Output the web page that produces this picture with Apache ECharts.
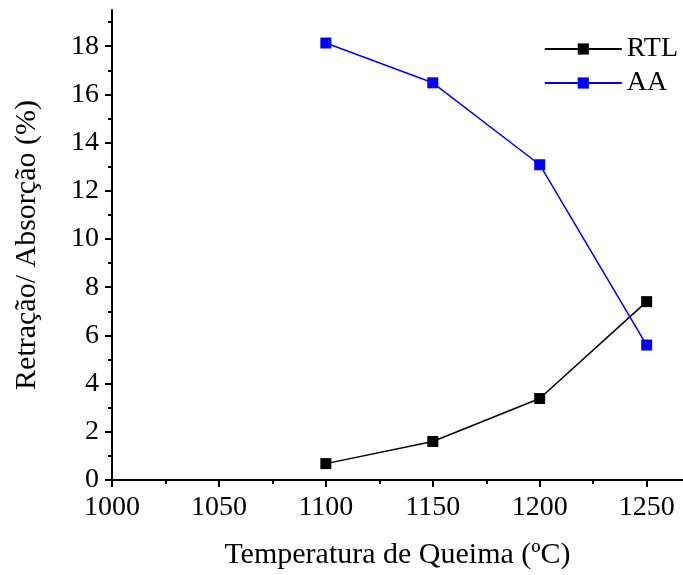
<html>
<head>
<meta charset="utf-8">
<title>Retração / Absorção</title>
<script src="https://cdn.jsdelivr.net/npm/echarts@6/dist/echarts.min.js"></script>
</head>
<body style="margin: 0px;">
<div id="main" style="width: 683px;height:575px;"></div>
<script type="text/javascript">
// temperatures (ºC)
var temps = [1100, 1150, 1200, 1250];
// series values (%)
var rtl = [0.68, 1.6, 3.38, 7.4];
var aa = [18.13, 16.48, 13.08, 5.6];
// tick labels
var xTicks = [1000, 1050, 1100, 1150, 1200, 1250];
var xMinor = [1025, 1075, 1125, 1175, 1225];
var yTicks = [0, 2, 4, 6, 8, 10, 12, 14, 16, 18];
var yMinor = [1, 3, 5, 7, 9, 11, 13, 15, 17, 19];

function pairs(xs, ys) {
	return xs.map(function (x, i) { return [x, ys[i]]; });
}

var font = 'Liberation Serif';
var chart = echarts.init(document.getElementById('main'));
chart.setOption({
	backgroundColor: '#fff',
	animation: false,
	textStyle: { fontFamily: font },
	legend: {
		right: 0,
		top: 30,
		orient: 'vertical',
		itemWidth: 77,
		itemHeight: 14,
		itemGap: 6,
		textStyle: { fontFamily: font, fontSize: 28, color: '#000' },
		data: ['RTL', 'AA']
	},
	grid: { left: 112, right: 0, top: 10, bottom: 95, containLabel: false, outerBoundsMode: 'none' },
	xAxis: [{
		type: 'value',
		min: 1000,
		max: 1267,
		name: 'Temperatura de Queima (ºC)',
		nameLocation: 'middle',
		nameGap: 60,
		nameTextStyle: { fontFamily: font, fontSize: 30, color: '#000' },
		splitLine: { show: false },
		axisLine: { onZero: false, lineStyle: { color: '#000', width: 2 } },
		axisTick: { customValues: xTicks, length: 7, lineStyle: { color: '#000', width: 2 } },
		axisLabel: {
			customValues: xTicks, fontFamily: font, fontSize: 28, color: '#000', margin: 14,
			formatter: function (v) { return String(v); }
		}
	}, {
		type: 'value',
		min: 1000,
		max: 1267,
		position: 'bottom',
		splitLine: { show: false },
		axisLine: { show: false },
		axisTick: { customValues: xMinor, length: 4, lineStyle: { color: '#000', width: 2 } },
		axisLabel: { show: false }
	}],
	yAxis: [{
		type: 'value',
		min: 0,
		max: 19.5,
		name: 'Retração/ Absorção (%)',
		nameLocation: 'middle',
		nameGap: 70,
		nameTextStyle: { fontFamily: font, fontSize: 30, color: '#000' },
		splitLine: { show: false },
		axisLine: { onZero: false, lineStyle: { color: '#000', width: 2 } },
		axisTick: { customValues: yTicks, length: 7, lineStyle: { color: '#000', width: 2 } },
		axisLabel: { customValues: yTicks, fontFamily: font, fontSize: 28, color: '#000', margin: 13 }
	}, {
		type: 'value',
		min: 0,
		max: 19.5,
		position: 'left',
		splitLine: { show: false },
		axisLine: { show: false },
		axisTick: { customValues: yMinor, length: 4, lineStyle: { color: '#000', width: 2 } },
		axisLabel: { show: false }
	}],
	series: [{
		name: 'RTL',
		type: 'line',
		data: pairs(temps, rtl),
		symbol: 'rect',
		symbolSize: 11,
		color: '#000',
		lineStyle: { color: '#000', width: 1.5 },
		itemStyle: { color: '#000' }
	}, {
		name: 'AA',
		type: 'line',
		data: pairs(temps, aa),
		symbol: 'rect',
		symbolSize: 11,
		color: '#0000ff',
		lineStyle: { color: '#0000ff', width: 1.5 },
		itemStyle: { color: '#0000ff' }
	}]
});
</script>
</body>
</html>
